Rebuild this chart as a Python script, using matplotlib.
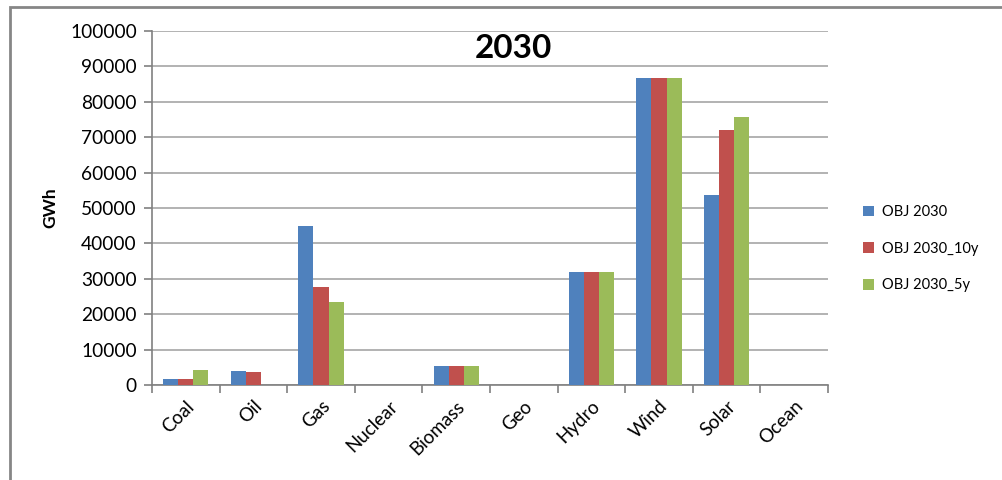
import matplotlib
matplotlib.use("Agg")
import matplotlib.pyplot as plt
import numpy as np
from matplotlib.patches import Rectangle

categories = ["Coal", "Oil", "Gas", "Nuclear", "Biomass", "Geo", "Hydro", "Wind", "Solar", "Ocean"]
series_names = ["OBJ 2030", "OBJ 2030_10y", "OBJ 2030_5y"]
obj_2030 = [1600, 4000, 44900, 0, 5400, 0, 31800, 86600, 53600, 0]
obj_2030_10y = [1600, 3700, 27700, 0, 5400, 0, 31800, 86600, 71900, 0]
obj_2030_5y = [4200, 0, 23500, 0, 5400, 0, 31800, 86600, 75800, 0]
yticks = list(range(0, 100001, 10000))
colors = ["#4F81BD", "#C0504D", "#9BBB59"]

plt.rcParams['font.family'] = ['Lato', 'DejaVu Sans']

fig = plt.figure(figsize=(10.02, 4.8), dpi=100)
ax = fig.add_axes([152/1002, 1-385/480, (828-152)/1002, (385-31)/480])

x = np.arange(len(categories))
w = 0.222
for i, (vals, name) in enumerate(zip([obj_2030, obj_2030_10y, obj_2030_5y], series_names)):
    ax.bar(x + (i-1)*w, vals, width=w, color=colors[i], label=name, zorder=3)

ax.set_xlim(-0.5, len(categories)-0.5)
ax.set_ylim(0, 100000)
ax.set_yticks(yticks)
ax.set_yticklabels([str(v) for v in yticks], fontsize=13.8)
ax.yaxis.grid(True, color="#A6A6A6", linewidth=1.2, zorder=0)
ax.set_xticks(x)
ax.set_xticklabels(categories, rotation=45, ha="right", rotation_mode="anchor", fontsize=13.5)
ax.tick_params(axis='x', length=0, pad=9)
ax.set_xticks(np.arange(-0.5, len(categories), 1), minor=True)
ax.tick_params(axis='x', which='minor', length=6, color="#808080", width=1.2)
ax.tick_params(axis='y', length=6, color="#808080", width=1.2, pad=5)
for s in ["top", "right"]:
    ax.spines[s].set_visible(False)
for s in ["left", "bottom"]:
    ax.spines[s].set_color("#808080")
    ax.spines[s].set_linewidth(1.2)

ax.set_ylabel("GWh", fontsize=12.5, fontweight="bold", labelpad=8)
ax.text(0.535, 0.95, "2030", transform=ax.transAxes, ha="center", va="center",
        fontsize=24, fontweight="bold")

leg = fig.legend(loc="upper left", bbox_to_anchor=(850/1002, 1-192/480), frameon=False,
                 fontsize=10.5, handlelength=0.75, handleheight=0.75, labelspacing=1.55,
                 handletextpad=0.55)

fig.patches.append(Rectangle((10/1002, -0.1), 1.1, 1-7/480+0.1, transform=fig.transFigure,
                             fill=False, edgecolor="#868686", linewidth=2, zorder=0))

fig.savefig("out.png", dpi=100)
